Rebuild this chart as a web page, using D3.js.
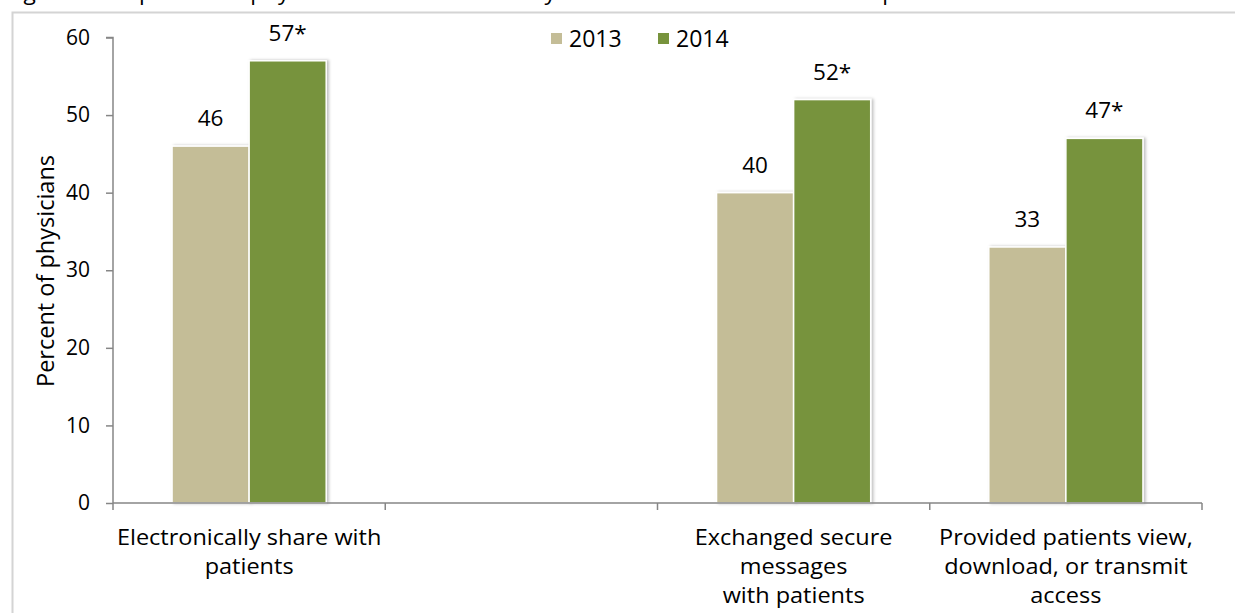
<!DOCTYPE html>
<html><head><meta charset="utf-8">
<script src="https://cdn.jsdelivr.net/npm/d3@7"></script>
<style>
html,body{margin:0;padding:0;background:#fff;}
svg{display:block;font-family:"Open Sans", sans-serif;}
</style></head>
<body>
<svg id="c" width="1235" height="613"></svg>
<script>
const titleText = "Figure 1: Proportion of physicians who electronically share health information with patients: 2013 and 2014";
const categories = ["Electronically share with patients", "", "Exchanged secure messages with patients", "Provided patients view, download, or transmit access"];
const categoryLines = [["Electronically share with", "patients"], [], ["Exchanged secure", "messages", "with patients"], ["Provided patients view,", "download, or transmit", "access"]];
const seriesNames = ["2013", "2014"];
const values2013 = [46, null, 40, 33];
const values2014 = [57, null, 52, 47];
const significant2014 = [true, false, true, true];
const yTicks = [0, 10, 20, 30, 40, 50, 60];
const colors = ["#c4bd97", "#77933c"];

const svg = d3.select("#c");
const W = 1235, H = 613;

// outer frame
svg.append("rect").attr("x", 12.5).attr("y", 12.5).attr("width", W).attr("height", H)
  .attr("fill", "none").attr("stroke", "#d4d4d4").attr("stroke-width", 2);

// clipped title (cut off at the top edge, as in the reference)
svg.append("text").attr("x", 6).attr("y", 0).attr("font-size", 21).attr("fill", "#000")
  .attr("textLength", 1130).attr("lengthAdjust", "spacingAndGlyphs")
  .text(titleText);

const x0 = 113, x1 = 1202, y0 = 503, y1 = 37.5;
const x = d3.scaleBand().domain(d3.range(categories.length)).range([x0, x1]).paddingInner(0).paddingOuter(0);
const xs = d3.scaleBand().domain(seriesNames).range([0, x.bandwidth()]).paddingInner(0).paddingOuter(0.766);
const y = d3.scaleLinear().domain([0, 60]).range([y0, y1]);

const defs = svg.append("defs");
const f = defs.append("filter").attr("id", "sh").attr("x", "-10%").attr("y", "-10%").attr("width", "130%").attr("height", "130%");
f.append("feDropShadow").attr("dx", 2).attr("dy", 0).attr("stdDeviation", 1.5).attr("flood-color", "#000").attr("flood-opacity", 0.25);

// y axis
const yAxis = d3.axisLeft(y).tickValues(yTicks).tickSize(7).tickPadding(16);
const gy = svg.append("g").attr("transform", `translate(${x0},0)`).call(yAxis);
gy.select(".domain").attr("stroke", "#868686").attr("stroke-width", 1.5).attr("d", `M-7,${y1}H0V${y0}`);
gy.selectAll(".tick line").attr("stroke", "#868686").attr("stroke-width", 1.5);
gy.selectAll(".tick text").attr("font-size", 21).attr("fill", "#000").attr("font-family", "'Open Sans', sans-serif");

// bars
const series = [values2013, values2014];
series.forEach((vals, si) => {
  svg.append("g").selectAll("rect").data(vals.map((v, i) => ({v, i})).filter(d => d.v != null))
    .join("rect")
    .attr("x", d => x(d.i) + xs(seriesNames[si]))
    .attr("y", d => y(d.v))
    .attr("width", xs.bandwidth())
    .attr("height", d => y0 - y(d.v))
    .attr("fill", colors[si])
    .attr("stroke", "#fff").attr("stroke-width", 1.5)
    .attr("filter", "url(#sh)");
  svg.append("g").selectAll("text").data(vals.map((v, i) => ({v, i})).filter(d => d.v != null))
    .join("text")
    .attr("x", d => x(d.i) + xs(seriesNames[si]) + xs.bandwidth() / 2)
    .attr("y", d => y(d.v) - 20)
    .attr("text-anchor", "middle").attr("font-size", 22.5).attr("fill", "#000")
    .text(d => d.v + (si === 1 && significant2014[d.i] ? "*" : ""));
});

// x axis
const gx = svg.append("g");
gx.append("line").attr("x1", x0).attr("x2", x1).attr("y1", y0).attr("y2", y0).attr("stroke", "#868686").attr("stroke-width", 1.5);
const bounds = d3.range(categories.length + 1).map(i => i < categories.length ? x(i) : x1);
gx.selectAll("line.t").data(bounds).join("line").attr("class", "t")
  .attr("x1", d => d).attr("x2", d => d).attr("y1", y0).attr("y2", y0 + 7)
  .attr("stroke", "#868686").attr("stroke-width", 1.5);
categoryLines.forEach((lines, i) => {
  const cx = x(i) + x.bandwidth() / 2;
  lines.forEach((l, k) => {
    gx.append("text").attr("text-anchor", "middle").attr("font-size", 21).attr("fill", "#000")
      .attr("transform", `translate(${cx},${545 + k * 28.8}) scale(1.12,1.06)`)
      .text(l);
  });
});

// y label
svg.append("text").attr("transform", "translate(54,271) rotate(-90)").attr("text-anchor", "middle")
  .attr("font-size", 23.5).attr("fill", "#000").text("Percent of physicians");

// legend
const lg = svg.append("g");
const legendX = [551, 658];
seriesNames.forEach((s, i) => {
  lg.append("rect").attr("x", legendX[i]).attr("y", 33).attr("width", 11).attr("height", 11).attr("fill", colors[i]);
  lg.append("text").attr("x", legendX[i] + 18).attr("y", 47).attr("font-size", 23).attr("fill", "#000").text(s);
});
</script>
</body></html>
